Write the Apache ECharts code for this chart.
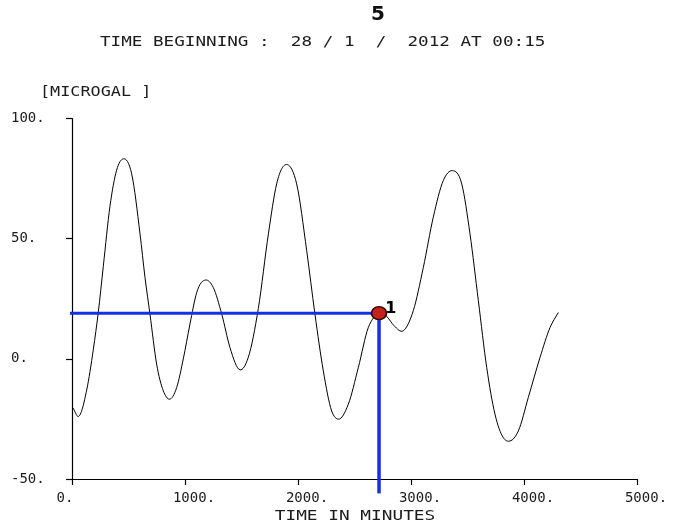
<!DOCTYPE html>
<html>
<head>
<meta charset="utf-8">
<script src="https://cdn.jsdelivr.net/npm/echarts@6/dist/echarts.min.js"></script>
<style>
  html, body { margin: 0; padding: 0; background: #ffffff; }
  #chart { width: 673px; height: 524px; }
</style>
</head>
<body>
<div id="chart"></div>
<script>
// Gravity tide record (microgal) against elapsed time in minutes
const timeMin = [10, 56, 130, 189, 233, 277, 336, 395, 454, 528, 602, 646, 690, 749, 808, 861,
  926, 985, 1044, 1103, 1183, 1250, 1325, 1398, 1487, 1560, 1649, 1738, 1811, 1906, 1988,
  2077, 2150, 2224, 2298, 2357, 2445, 2534, 2622, 2670, 2730, 2788, 2850, 2932, 3020, 3109,
  3197, 3286, 3366, 3449, 3522, 3596, 3670, 3743, 3817, 3876, 3950, 4038, 4142, 4230, 4304];
const microgal = [-20.5, -24.0, -13, 4, 19.5, 38.5, 63.5, 78.5, 83.2, 77, 52, 33.9, 18.6, -2.2, -13.3, -16.8,
  -12, 0, 14.5, 27.5, 32.8, 29.7, 18.6, 4.7, -4.6, 0.6, 21, 52, 72.8, 80.8, 72.8,
  45, 18.6, -5, -21.7, -25.1, -18.9, -3.6, 13, 17.2, 19.6, 17.5, 13.8, 11.7, 20, 38,
  58.9, 74.2, 78.3, 72.8, 52, 24.2, -3.6, -23, -32.8, -34.2, -30, -16.1, 0.6, 13, 19.3];

// Picked reading "1" and the ends of its blue guide lines
const markerTime = 2717;
const markerValue = 19;
const markerName = '1';
const guideStartTime = -150;
const guideEndValue = -56;

// Axis ranges and steps
const xTicks = { min: 0, max: 5000, step: 1000 };
const yTicks = { min: -50, max: 100, step: 50 };

const chartTitle = '5';
const subTitle = 'TIME BEGINNING :  28 / 1  /  2012 AT 00:15';
const yUnit = '[MICROGAL ]';
const xName = 'TIME IN MINUTES';

const curve = timeMin.map((t, i) => [t, microgal[i]]);
const hGuide = [[guideStartTime, markerValue], [markerTime, markerValue]];
const vGuide = [[markerTime, markerValue], [markerTime, guideEndValue]];

const mono = 'DejaVu Sans Mono';
const ink = '#1c1c1c';

// Smooth trace: each item draws a cubic Hermite segment to the next sample,
// with slopes taken from the neighbouring samples in screen space.
function renderTrace(params, api) {
  const i = params.dataIndex;
  if (i >= curve.length - 1) return null;
  const P = k => api.coord(curve[Math.max(0, Math.min(curve.length - 1, k))]);
  const slope = k => {
    const c = P(k);
    if (k <= 0) { const n = P(1); return (n[1] - c[1]) / (n[0] - c[0]); }
    if (k >= curve.length - 1) { const p = P(k - 1); return (c[1] - p[1]) / (c[0] - p[0]); }
    const p = P(k - 1), n = P(k + 1);
    const h0 = c[0] - p[0], h1 = n[0] - c[0];
    const d0 = (c[1] - p[1]) / h0, d1 = (n[1] - c[1]) / h1;
    return (d0 * h1 + d1 * h0) / (h0 + h1);
  };
  const a = P(i), b = P(i + 1);
  const h = b[0] - a[0];
  const m0 = slope(i), m1 = slope(i + 1);
  return {
    type: 'bezierCurve',
    shape: {
      x1: a[0], y1: a[1], x2: b[0], y2: b[1],
      cpx1: a[0] + h / 3, cpy1: a[1] + m0 * h / 3,
      cpx2: b[0] - h / 3, cpy2: b[1] - m1 * h / 3
    },
    style: { stroke: '#000', fill: null, lineWidth: 1 }
  };
}

const chart = echarts.init(document.getElementById('chart'), null, { renderer: 'canvas' });
chart.setOption({
  backgroundColor: '#ffffff',
  animation: false,
  grid: { left: 72, right: 36, top: 118.5, bottom: 45, containLabel: false },
  xAxis: {
    type: 'value',
    min: xTicks.min, max: xTicks.max, interval: xTicks.step,
    axisLine: { show: true, onZero: false, lineStyle: { color: '#000', width: 1.2 } },
    axisTick: { show: true, inside: false, length: 6, lineStyle: { color: '#000', width: 1.2 } },
    splitLine: { show: false },
    axisLabel: {
      margin: 12,
      fontFamily: mono, fontSize: 14, color: ink,
      formatter: v => v === 0 ? '{z|' + v + '.}' : '{n|' + v + '.}',
      rich: {
        n: { fontFamily: mono, fontSize: 14, color: ink, padding: [0, 0, 0, 18] },
        z: { fontFamily: mono, fontSize: 14, color: ink, padding: [0, 14, 0, 0] }
      }
    }
  },
  yAxis: {
    type: 'value',
    min: yTicks.min, max: yTicks.max, interval: yTicks.step,
    axisLine: { show: true, onZero: false, lineStyle: { color: '#000', width: 1.2 } },
    axisTick: { show: true, inside: false, length: 6, lineStyle: { color: '#000', width: 1.2 } },
    splitLine: { show: false },
    axisLabel: {
      margin: 61, align: 'left',
      fontFamily: mono, fontSize: 14, color: ink,
      formatter: v => v + '.'
    }
  },
  graphic: [
    { type: 'text', x: 378, y: 15,
      style: { text: chartTitle, font: 'bold 20px "DejaVu Sans"', fill: '#111', textAlign: 'center', textVerticalAlign: 'middle' } },
    { type: 'text', x: 100, y: 42, scaleX: 1.258, scaleY: 1,
      style: { text: subTitle, font: '14px "' + mono + '"', fill: ink, textAlign: 'left', textVerticalAlign: 'middle' } },
    { type: 'text', x: 40, y: 92, scaleX: 1.2, scaleY: 1,
      style: { text: yUnit, font: '14px "' + mono + '"', fill: ink, textAlign: 'left', textVerticalAlign: 'middle' } },
    { type: 'text', x: 355, y: 516, scaleX: 1.27, scaleY: 1,
      style: { text: xName, font: '14px "' + mono + '"', fill: ink, textAlign: 'center', textVerticalAlign: 'middle' } }
  ],
  series: [
    {
      type: 'custom', data: curve, renderItem: renderTrace,
      encode: { x: 0, y: 1 }, z: 2
    },
    {
      type: 'line', data: hGuide, showSymbol: false, symbol: 'none', clip: false,
      lineStyle: { color: '#1530e0', width: 3 }, z: 3
    },
    {
      type: 'line', data: vGuide, showSymbol: false, symbol: 'none', clip: false,
      lineStyle: { color: '#1530e0', width: 3.5 }, z: 3
    },
    {
      type: 'scatter', data: [[markerTime, markerValue]], symbol: 'circle', symbolSize: [15, 13],
      itemStyle: { color: '#c4231c', borderColor: '#2a0505', borderWidth: 1.5, opacity: 1 },
      label: {
        show: true, position: 'right', distance: 0, offset: [-2, -4],
        formatter: markerName, fontFamily: 'DejaVu Sans', fontWeight: 'bold', fontSize: 16, color: '#000'
      },
      z: 4
    }
  ]
});
</script>
</body>
</html>
